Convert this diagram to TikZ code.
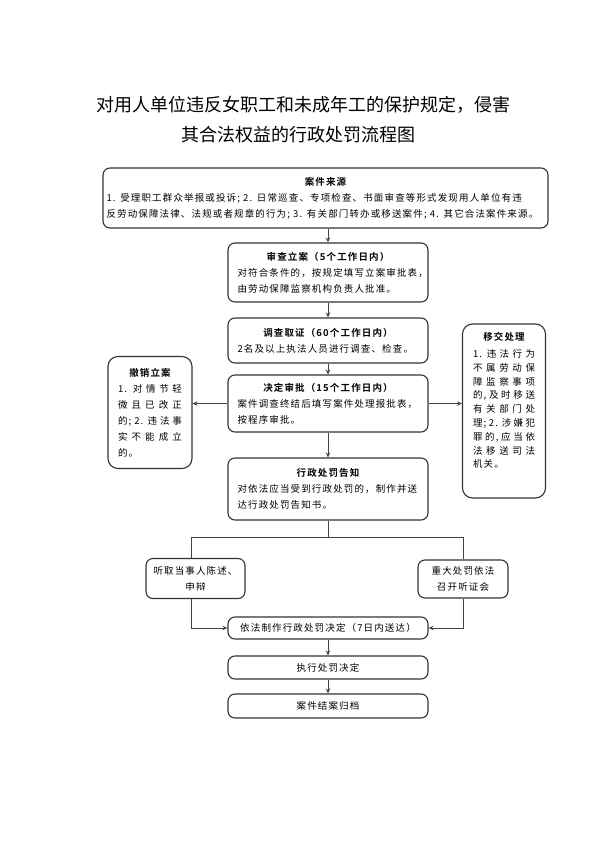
\documentclass[tikz,border=0pt]{standalone}
\usepackage{fontspec}
\setmainfont{Noto Sans CJK SC}[BoldFont={Noto Sans CJK SC Bold}]
\newfontfamily\bodyfont{Noto Sans CJK SC}[LetterSpace=12,BoldFont={Noto Sans CJK SC Bold}]
\usetikzlibrary{arrows.meta}
\newcommand\spr[2]{\makebox[#1][s]{#2}}
\newcommand\ttl[2]{\makebox[#1][c]{\bfseries #2}}
\definecolor{edge}{HTML}{333333}
\definecolor{conn}{HTML}{444444}
\begin{document}
\begin{tikzpicture}[x=1pt,y=-1pt,
  box/.style={draw=edge,line width=1.1pt,rounded corners=7pt,inner sep=0pt,
     font=\bodyfont\fontsize{9.5}{16}\selectfont},
  sidebox/.style={box,rounded corners=10pt,align=center},
  conline/.style={draw=conn,line width=0.9pt},
  arr/.style={conline,-{Stealth[length=5pt,width=4.5pt]}}]
\useasboundingbox (0,0) rectangle (600,848);
\fill[white] (0,0) rectangle (600,848);
% title
\node[font=\fontsize{18}{24}\selectfont] (t1) at (303.5,105) {对用人单位违反女职工和未成年工的保护规定，侵害};
\node[font=\fontsize{18}{24}\selectfont] (t2) at (298,135) {其合法权益的行政处罚流程图};
% main boxes
\node[box,minimum width=445pt,minimum height=60pt,text width=438pt,align=left] (src) at (325.5,198)
  {\ttl{438pt}{案件来源}\\1. 受理职工群众举报或投诉; 2. 日常巡查、专项检查、书面审查等形式发现用人单位有违\\反劳动保障法律、法规或者规章的行为; 3. 有关部门转办或移送案件; 4. 其它合法案件来源。};
\node[box,minimum width=200pt,minimum height=59pt,text width=181pt,align=left] (lian) at (328,272.5)
  {\ttl{181pt}{审查立案（5个工作日内）}\\对符合条件的，按规定填写立案审批表，\\由劳动保障监察机构负责人批准。};
\node[box,minimum width=200pt,minimum height=45pt,text width=181pt,align=left] (diaocha) at (328,340.5)
  {\ttl{181pt}{调查取证（60个工作日内）}\\2名及以上执法人员进行调查、检查。};
\node[box,minimum width=200pt,minimum height=57pt,text width=181pt,align=left] (jueding) at (328,403.5)
  {\ttl{181pt}{决定审批（15个工作日内）}\\案件调查终结后填写案件处理报批表，\\按程序审批。};
\node[box,minimum width=200pt,minimum height=62pt,text width=181pt,align=left] (gaozhi) at (328,489)
  {\ttl{181pt}{行政处罚告知}\\对依法应当受到行政处罚的，制作并送\\达行政处罚告知书。};
% side boxes
\node[sidebox,minimum width=84pt,minimum height=112pt] (chexiao) at (150,412.5)
  {{\bfseries 撤销立案}\\\spr{64pt}{1. 对 情 节 轻}\\\spr{64pt}{微 且 已 改 正}\\\spr{64pt}{的; 2. 违 法 事}\\\spr{64pt}{实 不 能 成 立}\\\makebox[64pt][l]{的。}};
\node[sidebox,minimum width=83pt,minimum height=174pt,font=\bodyfont\fontsize{9.5}{13.8}\selectfont] (yijiao) at (504,411)
  {{\bfseries 移交处理}\\[3pt]\spr{62pt}{1. 违 法 行 为}\\\spr{62pt}{不 属 劳 动 保}\\\spr{62pt}{障 监 察 事 项}\\\spr{62pt}{的, 及 时 移 送}\\\spr{62pt}{有 关 部 门 处}\\\spr{62pt}{理; 2. 涉 嫌 犯}\\\spr{62pt}{罪 的, 应 当 依}\\\spr{62pt}{法 移 送 司 法}\\\makebox[62pt][l]{机关。}\\[8pt]\mbox{}};
\node[box,minimum width=99pt,minimum height=40pt,align=center] (tingqu) at (195.5,578.5)
  {听取当事人陈述、\\申辩};
\node[box,minimum width=90pt,minimum height=38pt,align=center] (tingzheng) at (463,579)
  {重大处罚依法\\召开听证会};
\node[box,minimum width=200pt,minimum height=22pt] (zhizuo) at (328,628)
  {依法制作行政处罚决定（7日内送达）};
\node[box,minimum width=200pt,minimum height=23pt] (zhixing) at (328,667.5)
  {执行处罚决定};
\node[box,minimum width=200pt,minimum height=24pt] (guidang) at (328,706)
  {案件结案归档};
% connectors
\draw[arr] (src.south -| lian.north) -- (lian.north);
\draw[arr] (lian) -- (diaocha);
\draw[arr] (diaocha) -- (jueding);
\draw[arr] (jueding) -- (gaozhi);
\draw[arr] (jueding.west) -- (chexiao.east |- jueding.west);
\draw[arr] (jueding.east) -- (yijiao.west |- jueding.east);
\coordinate (sp) at (328,537);
\coordinate (sl) at (191,537);
\coordinate (sr) at (463,537);
\draw[conline] (gaozhi.south) -- (sp);
\draw[conline] (sl |- tingqu.north) -- (sl) -- (sr) -- (tingzheng.north);
\draw[arr] (sl |- tingqu.south) |- (zhizuo.west);
\draw[arr] (tingzheng.south) |- (zhizuo.east);
\draw[arr] (zhizuo) -- (zhixing);
\draw[arr] (zhixing) -- (guidang);
\end{tikzpicture}
\end{document}
